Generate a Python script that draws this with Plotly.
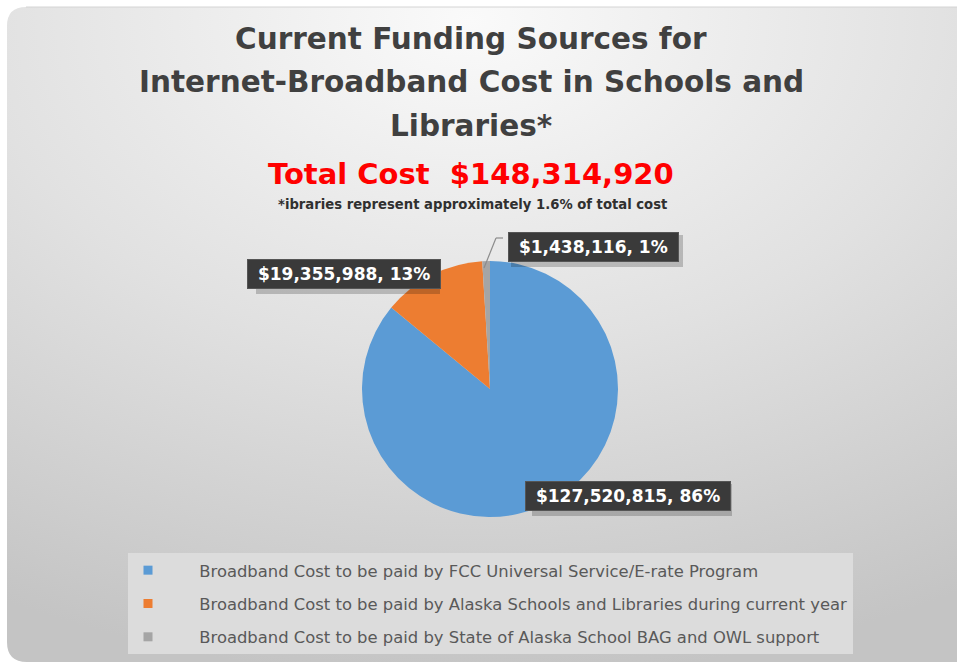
import plotly.graph_objects as go

# ---- data ----
categories = [
    "Broadband Cost to be paid by FCC Universal Service/E-rate Program",
    "Broadband Cost to be paid by Alaska Schools and Libraries during current year",
    "Broadband Cost to be paid by State of Alaska School BAG and OWL support",
]
values = [127520815, 19355988, 1438116]
colors = ["#5b9bd5", "#ed7d31", "#a5a5a5"]
total_cost_text = "$148,314,920"
title_lines = ["Current Funding Sources for", "Internet-Broadband Cost in Schools and", "Libraries*"]
footnote = "*ibraries represent approximately 1.6% of total cost"

W, H = 957, 662
total = sum(values)
pcts = [round(v / total * 100) for v in values]
labels_text = [f"${v:,}, {p}%" for v, p in zip(values, pcts)]

fig = go.Figure()

# background panel with radial gradient
fig.add_trace(go.Scatter(
    x=[-510, 1450, 1450, -510, -510], y=[-640, -640, 680, 680, -640],
    mode="lines", line=dict(width=0), fill="toself",
    fillgradient=dict(type="radial", colorscale=[[0, "#fafafa"], [0.5, "#e1e1e1"], [1, "#c4c4c4"]]),
    hoverinfo="skip", showlegend=False))

# pie
cx, cy, R = 490, 389, 128
fig.add_trace(go.Pie(
    labels=categories, values=values, sort=False, direction="clockwise", rotation=0,
    marker=dict(colors=colors, line=dict(width=0)), textinfo="none",
    showlegend=False, hoverinfo="label+value+percent",
    domain=dict(x=[(cx - R) / W, (cx + R) / W], y=[(H - cy - R) / H, (H - cy + R) / H])))

# legend entries
pad = "&nbsp;" * 6
for cat, col in zip(categories, colors):
    fig.add_trace(go.Scatter(
        x=[None], y=[None], mode="markers", name=pad + cat, legendgroup=cat,
        marker=dict(symbol="square", size=9, color=col)))

shapes = [
    dict(type="rect", xref="x", yref="y", x0=0, x1=W, y0=0, y1=7, fillcolor="white", line_width=0, layer="above"),
    dict(type="rect", xref="x", yref="y", x0=0, x1=7, y0=0, y1=H, fillcolor="white", line_width=0, layer="above"),
    dict(type="path", xref="x", yref="y", path="M 7,7 L 26,7 Q 7,7 7,26 Z", fillcolor="white", line_width=0, layer="above"),
    dict(type="path", xref="x", yref="y", path="M 7,662 L 7,642 Q 7,662 27,662 Z", fillcolor="white", line_width=0, layer="above"),
    dict(type="line", xref="x", yref="y", x0=26, x1=W, y0=7, y1=7, line=dict(color="#d4d4d4", width=1), layer="above"),
    # leader line for the small slice
    dict(type="line", xref="x", yref="y", x0=484, y0=268, x1=496, y1=238, line=dict(color="#8c8c8c", width=1.2), layer="above"),
    dict(type="line", xref="x", yref="y", x0=496, y0=238, x1=503, y1=238, line=dict(color="#8c8c8c", width=1.2), layer="above"),
]

annotations = []
tcol = "#404040"
tfont = "DejaVu Sans"
for txt, yy in zip(title_lines, [39, 82, 126]):
    annotations.append(dict(text=f"<b>{txt}</b>", x=471, y=yy, xref="x", yref="y", showarrow=False,
                            font=dict(family=tfont, size=29.5, color=tcol), xanchor="center", yanchor="middle"))
annotations.append(dict(text=f"<b>Total Cost  {total_cost_text}</b>", x=471, y=174, xref="x", yref="y", showarrow=False,
                        font=dict(family=tfont, size=29, color="#ff0000"), xanchor="center", yanchor="middle"))
annotations.append(dict(text=f"<b>{footnote}</b>", x=472, y=204, xref="x", yref="y", showarrow=False,
                        font=dict(family=tfont, size=13.2, color="#303030"), xanchor="center", yanchor="middle"))

# data-label boxes (position and approximate box size for drop shadows)
label_pos = [(628, 496), (344, 274), (593, 247)]
box_size = [(200, 32), (184, 32), (172, 32)]
sp = "&nbsp;"
for (lx, ly), (bw, bh), txt in zip(label_pos, box_size, labels_text):
    shapes.append(dict(type="rect", xref="x", yref="y", x0=lx - bw / 2 + 4, x1=lx + bw / 2 + 4,
                       y0=ly - bh / 2 + 4, y1=ly + bh / 2 + 4, fillcolor="rgba(0,0,0,0.2)",
                       line_width=0, layer="above"))
    annotations.append(dict(text=f"<b>{sp}{txt}{sp}</b>", x=lx, y=ly, xref="x", yref="y", showarrow=False,
                            font=dict(family="DejaVu Sans", size=17, color="white"),
                            bgcolor="#3a3a3a", bordercolor="#555555", borderwidth=1, borderpad=4))

fig.update_layout(
    width=W, height=H, margin=dict(l=0, r=0, t=0, b=0),
    paper_bgcolor="white", plot_bgcolor="white",
    xaxis=dict(range=[0, W], visible=False, fixedrange=True),
    yaxis=dict(range=[H, 0], visible=False, fixedrange=True),
    shapes=shapes, annotations=annotations,
    showlegend=True,
    legend=dict(x=128 / W, y=1 - 553 / H, xanchor="left", yanchor="top",
                bgcolor="#dcdcdc", font=dict(family="DejaVu Sans", size=16.4, color="#595959"),
                tracegroupgap=9, itemwidth=30),
)

fig.write_html("out.html", config={"displayModeBar": False},
               post_script="document.body.style.margin='0px';")
